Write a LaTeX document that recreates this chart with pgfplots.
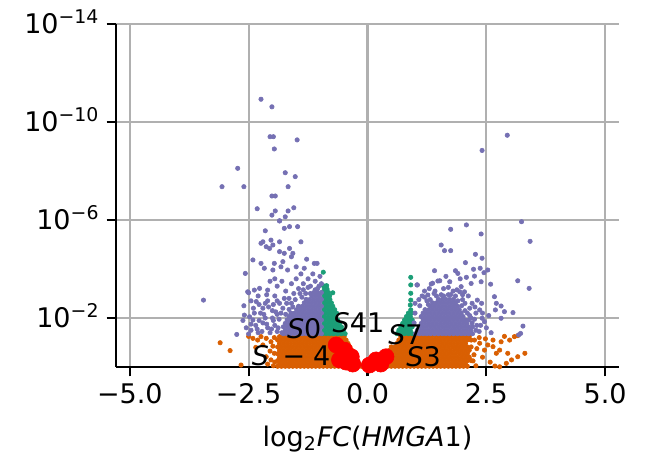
\documentclass[border=0pt]{standalone}
\usepackage{fontspec}
\setmainfont{DejaVu Sans}
\usepackage{pgfplots}
\pgfplotsset{compat=1.18}
\definecolor{cpurple}{HTML}{7570B3}
\definecolor{cgreen}{HTML}{1B9E77}
\definecolor{corange}{HTML}{D95F02}
\definecolor{cred}{HTML}{FF0000}
\definecolor{cgrid}{HTML}{B0B0B0}
\pgfplotsset{
 dot/.style={only marks, mark=*, mark size=1.1pt, color=#1, mark options={line width=0.3pt, draw=#1, fill=#1}},
}
\begin{document}
\begin{tikzpicture}[lab/.style={anchor=base west, inner sep=0pt, font=\fontsize{13.5}{16}\selectfont}]
\begin{axis}[
 scale only axis, width=251.5pt, height=171.5pt,
 xmin=-5.29, xmax=5.29, ymin=0, ymax=14,
 axis x line*=bottom, axis y line*=left,
 xtick={-5,-2.5,0,2.5,5}, xticklabels={−5.0,−2.5,0.0,2.5,5.0},
 ytick={2,6,10,14},
 yticklabels={10\textsuperscript{−2},10\textsuperscript{−6},10\textsuperscript{−10},10\textsuperscript{−14}},
 tick align=outside, major tick length=4.7pt,
 tick style={black, line width=1.08pt},
 axis line style={black, line width=1.08pt},
 grid=major, major grid style={color=cgrid, line width=1.08pt},
 ticklabel style={font=\fontsize{13.5}{16}\selectfont},
 yticklabel style={anchor=base east, yshift=-4.9pt},
 xlabel={log\textsubscript{2}\textit{FC}(\textit{HMGA}1)},
 xlabel style={font=\fontsize{13.5}{16}\selectfont, at={(rel axis cs:0.5,-0.232)}, anchor=base},
]
% orange (not significant)
\addplot[dot=corange] coordinates {
(-1.85,1.24)(-1.77,1.24)(-1.69,1.24)(-1.61,1.24)(-1.53,1.24)(-1.45,1.24)(-1.37,1.24)(-1.29,1.24)(-1.21,1.24)(-1.13,1.24)(-1.05,1.24)(-0.97,1.24)(-0.89,1.24)(-0.81,1.24)(-0.73,1.24)(-0.65,1.24)(-0.57,1.24)(-0.49,1.24)
(-1.89,1.1)(-1.81,1.1)(-1.73,1.1)(-1.65,1.1)(-1.57,1.1)(-1.49,1.1)(-1.41,1.1)(-1.33,1.1)(-1.25,1.1)(-1.17,1.1)(-1.09,1.1)(-1.01,1.1)(-0.93,1.1)(-0.85,1.1)(-0.77,1.1)(-0.69,1.1)(-0.61,1.1)(-0.53,1.1)(-0.45,1.1)
(-1.85,0.96)(-1.77,0.96)(-1.69,0.96)(-1.61,0.96)(-1.53,0.96)(-1.45,0.96)(-1.37,0.96)(-1.29,0.96)(-1.21,0.96)(-1.13,0.96)(-1.05,0.96)(-0.97,0.96)(-0.89,0.96)(-0.81,0.96)(-0.73,0.96)(-0.65,0.96)(-0.57,0.96)(-0.49,0.96)(-0.41,0.96)
(-1.89,0.82)(-1.81,0.82)(-1.73,0.82)(-1.65,0.82)(-1.57,0.82)(-1.49,0.82)(-1.41,0.82)(-1.33,0.82)(-1.25,0.82)(-1.17,0.82)(-1.09,0.82)(-1.01,0.82)(-0.93,0.82)(-0.85,0.82)(-0.77,0.82)(-0.69,0.82)(-0.61,0.82)(-0.53,0.82)(-0.45,0.82)(-0.37,0.82)
(-1.85,0.68)(-1.77,0.68)(-1.69,0.68)(-1.61,0.68)(-1.53,0.68)(-1.45,0.68)(-1.37,0.68)(-1.29,0.68)(-1.21,0.68)(-1.13,0.68)(-1.05,0.68)(-0.97,0.68)(-0.89,0.68)(-0.81,0.68)(-0.73,0.68)(-0.65,0.68)(-0.57,0.68)(-0.49,0.68)(-0.41,0.68)(-0.33,0.68)
(-1.89,0.54)(-1.81,0.54)(-1.73,0.54)(-1.65,0.54)(-1.57,0.54)(-1.49,0.54)(-1.41,0.54)(-1.33,0.54)(-1.25,0.54)(-1.17,0.54)(-1.09,0.54)(-1.01,0.54)(-0.93,0.54)(-0.85,0.54)(-0.77,0.54)(-0.69,0.54)(-0.61,0.54)(-0.53,0.54)(-0.45,0.54)(-0.37,0.54)(-0.29,0.54)
(-1.85,0.4)(-1.77,0.4)(-1.69,0.4)(-1.61,0.4)(-1.53,0.4)(-1.45,0.4)(-1.37,0.4)(-1.29,0.4)(-1.21,0.4)(-1.13,0.4)(-1.05,0.4)(-0.97,0.4)(-0.89,0.4)(-0.81,0.4)(-0.73,0.4)(-0.65,0.4)(-0.57,0.4)(-0.49,0.4)(-0.41,0.4)(-0.33,0.4)(-0.25,0.4)
(-1.89,0.26)(-1.81,0.26)(-1.73,0.26)(-1.65,0.26)(-1.57,0.26)(-1.49,0.26)(-1.41,0.26)(-1.33,0.26)(-1.25,0.26)(-1.17,0.26)(-1.09,0.26)(-1.01,0.26)(-0.93,0.26)(-0.85,0.26)(-0.77,0.26)(-0.69,0.26)(-0.61,0.26)(-0.53,0.26)(-0.45,0.26)(-0.37,0.26)(-0.29,0.26)(-0.21,0.26)
(-1.85,0.12)(-1.77,0.12)(-1.69,0.12)(-1.61,0.12)(-1.53,0.12)(-1.45,0.12)(-1.37,0.12)(-1.29,0.12)(-1.21,0.12)(-1.13,0.12)(-1.05,0.12)(-0.97,0.12)(-0.89,0.12)(-0.81,0.12)(-0.73,0.12)(-0.65,0.12)(-0.57,0.12)(-0.49,0.12)(-0.41,0.12)(-0.33,0.12)(-0.25,0.12)(-0.17,0.12)
(-1.89,0.03)(-1.81,0.03)(-1.73,0.03)(-1.65,0.03)(-1.57,0.03)(-1.49,0.03)(-1.41,0.03)(-1.33,0.03)(-1.25,0.03)(-1.17,0.03)(-1.09,0.03)(-1.01,0.03)(-0.93,0.03)(-0.85,0.03)(-0.77,0.03)(-0.69,0.03)(-0.61,0.03)(-0.53,0.03)(-0.45,0.03)(-0.37,0.03)(-0.29,0.03)(-0.21,0.03)(-0.13,0.03)(-0.08,0.02)
(0.70,1.24)(0.78,1.24)(0.86,1.24)(0.94,1.24)(1.02,1.24)(1.10,1.24)(1.18,1.24)(1.26,1.24)(1.34,1.24)(1.42,1.24)(1.50,1.24)(1.58,1.24)(1.66,1.24)(1.74,1.24)(1.82,1.24)(1.90,1.24)(1.98,1.24)(2.06,1.24)(2.14,1.24)
(0.66,1.1)(0.74,1.1)(0.82,1.1)(0.90,1.1)(0.98,1.1)(1.06,1.1)(1.14,1.1)(1.22,1.1)(1.30,1.1)(1.38,1.1)(1.46,1.1)(1.54,1.1)(1.62,1.1)(1.70,1.1)(1.78,1.1)(1.86,1.1)(1.94,1.1)(2.02,1.1)(2.10,1.1)(2.18,1.1)
(0.62,0.96)(0.70,0.96)(0.78,0.96)(0.86,0.96)(0.94,0.96)(1.02,0.96)(1.10,0.96)(1.18,0.96)(1.26,0.96)(1.34,0.96)(1.42,0.96)(1.50,0.96)(1.58,0.96)(1.66,0.96)(1.74,0.96)(1.82,0.96)(1.90,0.96)(1.98,0.96)(2.06,0.96)
(0.50,0.82)(0.58,0.82)(0.66,0.82)(0.74,0.82)(0.82,0.82)(0.90,0.82)(0.98,0.82)(1.06,0.82)(1.14,0.82)(1.22,0.82)(1.30,0.82)(1.38,0.82)(1.46,0.82)(1.54,0.82)(1.62,0.82)(1.70,0.82)(1.78,0.82)(1.86,0.82)(1.94,0.82)(2.02,0.82)(2.10,0.82)(2.18,0.82)
(0.46,0.68)(0.54,0.68)(0.62,0.68)(0.70,0.68)(0.78,0.68)(0.86,0.68)(0.94,0.68)(1.02,0.68)(1.10,0.68)(1.18,0.68)(1.26,0.68)(1.34,0.68)(1.42,0.68)(1.50,0.68)(1.58,0.68)(1.66,0.68)(1.74,0.68)(1.82,0.68)(1.90,0.68)(1.98,0.68)(2.06,0.68)(2.14,0.68)
(0.34,0.54)(0.42,0.54)(0.50,0.54)(0.58,0.54)(0.66,0.54)(0.74,0.54)(0.82,0.54)(0.90,0.54)(0.98,0.54)(1.06,0.54)(1.14,0.54)(1.22,0.54)(1.30,0.54)(1.38,0.54)(1.46,0.54)(1.54,0.54)(1.62,0.54)(1.70,0.54)(1.78,0.54)(1.86,0.54)(1.94,0.54)(2.02,0.54)(2.10,0.54)
(0.30,0.4)(0.38,0.4)(0.46,0.4)(0.54,0.4)(0.62,0.4)(0.70,0.4)(0.78,0.4)(0.86,0.4)(0.94,0.4)(1.02,0.4)(1.10,0.4)(1.18,0.4)(1.26,0.4)(1.34,0.4)(1.42,0.4)(1.50,0.4)(1.58,0.4)(1.66,0.4)(1.74,0.4)(1.82,0.4)(1.90,0.4)(1.98,0.4)(2.06,0.4)(2.14,0.4)
(0.18,0.26)(0.26,0.26)(0.34,0.26)(0.42,0.26)(0.50,0.26)(0.58,0.26)(0.66,0.26)(0.74,0.26)(0.82,0.26)(0.90,0.26)(0.98,0.26)(1.06,0.26)(1.14,0.26)(1.22,0.26)(1.30,0.26)(1.38,0.26)(1.46,0.26)(1.54,0.26)(1.62,0.26)(1.70,0.26)(1.78,0.26)(1.86,0.26)(1.94,0.26)(2.02,0.26)(2.10,0.26)(2.18,0.26)
(0.14,0.12)(0.22,0.12)(0.30,0.12)(0.38,0.12)(0.46,0.12)(0.54,0.12)(0.62,0.12)(0.70,0.12)(0.78,0.12)(0.86,0.12)(0.94,0.12)(1.02,0.12)(1.10,0.12)(1.18,0.12)(1.26,0.12)(1.34,0.12)(1.42,0.12)(1.50,0.12)(1.58,0.12)(1.66,0.12)(1.74,0.12)(1.82,0.12)(1.90,0.12)(1.98,0.12)(2.06,0.12)
(0.05,0.02)(0.10,0.03)(0.18,0.03)(0.26,0.03)(0.34,0.03)(0.42,0.03)(0.50,0.03)(0.58,0.03)(0.66,0.03)(0.74,0.03)(0.82,0.03)(0.90,0.03)(0.98,0.03)(1.06,0.03)(1.14,0.03)(1.22,0.03)(1.30,0.03)(1.38,0.03)(1.46,0.03)(1.54,0.03)(1.62,0.03)(1.70,0.03)(1.78,0.03)(1.86,0.03)(1.94,0.03)(2.02,0.03)(2.10,0.03)
(-3.10,0.99)(-2.89,0.67)(-2.66,0.08)(-2.41,1.17)(-2.31,1.1)(-2.24,1.24)(-2.13,1.17)(-2.03,1.03)(-1.96,1.2)(-1.99,0.85)(-1.96,0.56)(-2.13,0.42)(-2.03,0.29)(-1.95,0.2)(-2.2,0.9)(-2.05,0.65)(-2.5,1.25)(-2.35,0.8)(-1.98,0.05)(-2.1,0.12)
(2.25,1.1)(2.36,0.97)(2.46,0.69)(2.53,0.9)(2.64,0.83)(2.71,0.56)(2.78,0.69)(2.81,1.03)(2.88,1.25)(2.99,1.1)(3.09,1.24)(3.16,1.28)(2.95,0.56)(2.92,0.15)(3.03,0.29)(3.16,0.42)(3.31,0.56)(2.78,0.01)(2.24,0.5)(2.3,0.75)(2.22,0.25)(2.35,1.2)(2.42,0.4)(2.28,0.05)(2.58,0.2)(2.64,1.1)(2.48,1.15)(2.68,0.04)
};
% green (significant, small fold change)
\addplot[dot=cgreen] coordinates {
(-0.95,1.36)(-0.87,1.36)(-0.79,1.36)(-0.71,1.36)(-0.63,1.36)(-0.55,1.36)(-0.47,1.36)
(-0.91,1.5)(-0.83,1.5)(-0.75,1.5)(-0.67,1.5)(-0.59,1.5)(-0.51,1.5)
(-0.95,1.64)(-0.87,1.64)(-0.79,1.64)(-0.71,1.64)(-0.63,1.64)(-0.55,1.64)
(-0.91,1.78)(-0.83,1.78)(-0.75,1.78)(-0.67,1.78)(-0.59,1.78)
(-0.95,1.92)(-0.87,1.92)(-0.79,1.92)(-0.71,1.92)(-0.63,1.92)
(-0.91,2.06)(-0.83,2.06)(-0.75,2.06)(-0.67,2.06)
(-0.95,2.2)(-0.87,2.2)(-0.79,2.2)(-0.71,2.2)(-0.65,2.2)
(-0.91,2.34)(-0.83,2.34)(-0.75,2.34)(-0.69,2.34)
(-0.95,2.48)(-0.87,2.48)(-0.79,2.48)(-0.73,2.48)
(-0.91,2.62)(-0.83,2.62)(-0.76,2.62)
(-0.95,2.76)(-0.87,2.76)(-0.79,2.76)
(-0.91,2.9)(-0.83,2.9)(-0.8,2.9)
(-0.95,3.04)(-0.87,3.04)(-0.82,3.04)
(-0.91,3.18)(-0.85,3.18)
(-0.93,3.32)(-0.86,3.32)
(-0.93,3.87)(-0.73,3.03)
(0.62,1.36)(0.70,1.36)(0.78,1.36)(0.86,1.36)(0.94,1.36)
(0.66,1.5)(0.74,1.5)(0.82,1.5)(0.90,1.5)
(0.70,1.64)(0.78,1.64)(0.86,1.64)(0.94,1.64)
(0.74,1.78)(0.82,1.78)(0.90,1.78)
(0.78,1.92)(0.86,1.92)(0.94,1.92)
(0.82,2.06)(0.90,2.06)
(0.86,2.2)(0.93,2.2)
(0.91,2.33)(0.9,2.53)(0.91,2.73)(0.91,3.01)(0.91,3.35)(0.91,3.66)
};
% purple (significant, large fold change)
\addplot[dot=cpurple] coordinates {
(-1.77,1.36)(-1.69,1.36)(-1.61,1.36)(-1.53,1.36)(-1.45,1.36)(-1.37,1.36)(-1.29,1.36)(-1.21,1.36)(-1.13,1.36)(-1.05,1.36)(-0.97,1.36)
(-1.73,1.5)(-1.65,1.5)(-1.57,1.5)(-1.49,1.5)(-1.41,1.5)(-1.33,1.5)(-1.25,1.5)(-1.17,1.5)(-1.09,1.5)(-1.01,1.5)
(-1.77,1.64)(-1.69,1.64)(-1.61,1.64)(-1.53,1.64)(-1.45,1.64)(-1.37,1.64)(-1.29,1.64)(-1.21,1.64)(-1.13,1.64)(-1.05,1.64)(-0.97,1.64)
(-1.73,1.78)(-1.65,1.78)(-1.57,1.78)(-1.49,1.78)(-1.41,1.78)(-1.33,1.78)(-1.25,1.78)(-1.17,1.78)(-1.09,1.78)(-1.01,1.78)
(-1.69,1.92)(-1.61,1.92)(-1.53,1.92)(-1.45,1.92)(-1.37,1.92)(-1.29,1.92)(-1.21,1.92)(-1.13,1.92)(-1.05,1.92)(-0.97,1.92)
(-1.65,2.06)(-1.57,2.06)(-1.49,2.06)(-1.41,2.06)(-1.33,2.06)(-1.25,2.06)(-1.17,2.06)(-1.09,2.06)(-1.01,2.06)
(-1.61,2.2)(-1.53,2.2)(-1.45,2.2)(-1.37,2.2)(-1.29,2.2)(-1.21,2.2)(-1.13,2.2)(-1.05,2.2)(-0.97,2.2)
(-1.49,2.34)(-1.41,2.34)(-1.33,2.34)(-1.25,2.34)(-1.17,2.34)(-1.09,2.34)(-1.01,2.34)
(-1.45,2.48)(-1.37,2.48)(-1.29,2.48)(-1.21,2.48)(-1.13,2.48)(-1.05,2.48)(-0.97,2.48)
(-1.33,2.62)(-1.25,2.62)(-1.17,2.62)(-1.09,2.62)(-1.01,2.62)
(-1.29,2.76)(-1.21,2.76)(-1.13,2.76)(-1.05,2.76)(-0.97,2.76)
(-1.17,2.9)(-1.09,2.9)(-1.01,2.9)
(-1.13,3.04)(-1.05,3.04)(-0.97,3.04)
(-2.52,3.07)(-2.38,3.14)(-2.27,3.21)(-2.59,2.12)(-2.48,2.05)(-2.41,1.92)(-2.34,2.67)(-2.57,3.82)(-2.41,4.37)(-2.24,4.23)(-1.96,4.23)(-1.78,4.30)(-2.17,4.03)(-1.99,3.96)(-1.82,4.09)(-1.68,3.96)(-1.5,4.09)(-1.33,4.03)(-1.12,4.23)(-1.06,4.23)(-2.13,4.91)(-2.06,4.84)(-1.99,4.98)(-1.85,4.71)(-1.75,4.64)(-1.64,4.84)(-1.57,4.64)(-2.2,5.11)(-2.03,5.18)(-1.85,5.11)(-1.4,5.11)(-2.15,5.56)(-1.75,5.66)(-1.64,5.73)(-1.47,5.73)(-1.85,5.97)(-2.24,5.05)(-2.1,3.14)(-2.5,3.03)(-2.75,1.33)(-3.45,2.73)(-2.55,1.6)
(-2.2,2.4)(-2.1,2.7)(-2.0,2.3)(-1.95,2.9)(-1.9,3.3)(-1.85,2.6)(-1.8,3.5)(-1.72,3.1)(-1.65,2.8)(-1.6,3.4)(-1.55,3.0)(-1.5,3.6)(-1.45,3.2)(-1.4,3.8)(-1.35,3.4)(-1.3,3.0)(-1.25,3.6)(-1.2,3.3)(-1.15,3.8)(-1.1,3.5)(-1.05,3.2)(-1.0,3.7)(-0.97,3.4)(-1.28,4.4)(-1.6,4.5)(-1.95,3.6)(-2.05,3.5)(-2.3,2.9)(-2.25,2.2)(-2.35,1.7)(-2.45,1.5)(-2.2,1.8)(-2.1,1.6)(-2.0,2.0)(-1.9,1.45)(-1.95,1.7)(-2.05,1.4)(-2.15,2.0)(-2.3,1.4)(-2.5,1.35)(-1.9,2.15)(-2.12,2.95)(-1.78,2.4)(-1.7,2.6)(-1.2,3.0)(-1.08,2.95)(-1.38,2.85)(-2.4,2.4)(-2.28,2.55)(-1.98,2.55)
(-2.45,1.75)(-2.38,2.2)(-2.32,1.55)(-2.28,1.9)(-2.22,1.45)(-2.18,2.15)(-2.12,1.75)(-2.08,2.45)(-2.02,1.55)(-1.98,1.9)(-1.93,2.25)(-1.88,1.6)(-1.86,1.95)(-1.82,2.2)(-1.8,1.4)(-2.6,2.5)(-2.62,1.9)(-2.45,2.7)(-2.15,2.6)(-1.9,2.7)(-1.75,2.8)(-1.6,2.6)(-1.52,2.75)(-1.42,3.0)(-1.35,3.15)(-1.25,3.25)(-1.1,3.15)(-1.02,3.3)(-1.57,2.45)(-1.65,2.35)(-1.72,2.15)
(-2.24,10.93)(-2.01,10.62)(-2.05,9.4)(-1.98,9.4)(-1.48,9.27)(-1.96,8.9)(-2.73,8.11)(-3.06,7.36)(-2.6,7.36)(-1.73,7.93)(-1.52,7.77)(-1.67,7.36)(-2.01,6.98)(-1.94,6.98)(-2.32,6.46)(-1.94,6.37)(-2.01,6.2)(-1.67,6.37)(-1.55,6.5)(-1.73,6.13)(-1.85,5.96)
(1.01,1.36)(1.09,1.36)(1.17,1.36)(1.25,1.36)(1.33,1.36)(1.41,1.36)(1.49,1.36)(1.57,1.36)(1.65,1.36)(1.73,1.36)(1.81,1.36)(1.89,1.36)(1.97,1.36)(2.05,1.36)(2.13,1.36)(2.21,1.36)
(1.05,1.5)(1.13,1.5)(1.21,1.5)(1.29,1.5)(1.37,1.5)(1.45,1.5)(1.53,1.5)(1.61,1.5)(1.69,1.5)(1.77,1.5)(1.85,1.5)(1.93,1.5)(2.01,1.5)(2.09,1.5)(2.17,1.5)
(1.09,1.64)(1.17,1.64)(1.25,1.64)(1.33,1.64)(1.41,1.64)(1.49,1.64)(1.57,1.64)(1.65,1.64)(1.73,1.64)(1.81,1.64)(1.89,1.64)(1.97,1.64)(2.05,1.64)(2.13,1.64)(2.21,1.64)
(1.13,1.78)(1.21,1.78)(1.29,1.78)(1.37,1.78)(1.45,1.78)(1.53,1.78)(1.61,1.78)(1.69,1.78)(1.77,1.78)(1.85,1.78)(1.93,1.78)(2.01,1.78)(2.09,1.78)
(1.17,1.92)(1.25,1.92)(1.33,1.92)(1.41,1.92)(1.49,1.92)(1.57,1.92)(1.65,1.92)(1.73,1.92)(1.81,1.92)(1.89,1.92)(1.97,1.92)(2.05,1.92)(2.13,1.92)
(1.13,2.06)(1.21,2.06)(1.29,2.06)(1.37,2.06)(1.45,2.06)(1.53,2.06)(1.61,2.06)(1.69,2.06)(1.77,2.06)(1.85,2.06)(1.93,2.06)(2.01,2.06)
(1.17,2.2)(1.25,2.2)(1.33,2.2)(1.41,2.2)(1.49,2.2)(1.57,2.2)(1.65,2.2)(1.73,2.2)(1.81,2.2)(1.89,2.2)(1.97,2.2)
(1.21,2.34)(1.29,2.34)(1.37,2.34)(1.45,2.34)(1.53,2.34)(1.61,2.34)(1.69,2.34)(1.77,2.34)(1.85,2.34)(1.93,2.34)
(1.33,2.48)(1.41,2.48)(1.49,2.48)(1.57,2.48)(1.65,2.48)(1.73,2.48)(1.81,2.48)(1.89,2.48)
(1.37,2.62)(1.45,2.62)(1.53,2.62)(1.61,2.62)(1.69,2.62)(1.77,2.62)(1.85,2.62)
(1.49,2.76)(1.57,2.76)(1.65,2.76)(1.73,2.76)(1.81,2.76)
(2.94,9.46)(2.41,8.84)(3.24,5.93)(2.08,5.80)(2.39,5.43)(1.75,5.62)(3.42,5.13)(1.55,4.98)(1.62,4.75)(1.75,4.75)(2.27,4.6)(2.41,4.44)(2.06,4.26)(1.41,3.93)(1.85,3.93)(1.9,3.82)(2.23,3.99)(2.37,4.03)(2.45,3.85)(2.53,3.96)(1.73,3.48)(1.48,3.51)(1.34,3.39)(2.08,3.66)(2.25,3.71)(2.18,3.41)(2.39,3.48)(2.59,3.38)(1.05,3.35)(1.27,2.94)(1.97,3.28)(1.94,3.07)(2.04,3.07)(2.67,2.87)(2.71,2.6)(2.81,2.49)(2.69,2.33)(2.88,2.26)(2.81,1.99)(3.06,2.22)(2.41,1.99)(2.46,1.85)(3.16,3.52)(3.27,1.67)(3.22,1.37)(2.31,2.73)(2.36,2.33)(3.40,3.21)(3.18,1.31)
(1.15,2.9)(1.2,3.1)(1.6,3.2)(1.8,3.1)(2.12,2.9)(2.2,2.6)(2.28,2.2)(2.3,1.7)(2.35,1.45)(2.5,1.6)(2.55,2.1)(2.6,1.4)(1.4,3.0)(1.55,2.95)(1.7,2.95)(1.85,2.9)(2.0,2.75)(2.15,2.4)(2.25,1.95)(2.4,2.6)(1.25,2.7)(1.1,2.5)(1.0,2.2)(0.98,1.8)(1.3,3.2)(1.65,3.7)(1.95,3.6)(2.05,2.3)(1.04,3.35)(1.37,3.42)(1.52,3.52)
(1.0,2.6)(1.08,2.75)(1.2,2.85)(1.28,2.55)(1.32,2.75)(1.45,2.9)(1.6,2.9)(1.75,2.95)(1.9,2.7)(1.98,2.5)(2.05,2.6)(2.1,2.2)(2.18,2.0)(2.2,1.8)(2.28,1.5)(2.15,2.1)(1.42,3.1)(1.7,3.25)(1.88,3.15)(2.0,2.95)(2.26,2.45)(2.38,1.7)(2.42,2.2)
};
% red highlighted genes
\addplot[only marks, mark=*, mark size=4pt, color=cred, mark options={line width=0.3pt, draw=cred, fill=cred}] coordinates {
(-0.66,0.9)(-0.48,0.69)(-0.34,0.42)(-0.59,0.29)(-0.45,0.2)(-0.31,0.12)
(0.04,0.08)(0.18,0.29)(0.39,0.42)(0.28,0.12)
};
\coordinate (lS0) at (axis cs:-1.70,1.17);
\coordinate (lS41) at (axis cs:-0.74,1.42);
\coordinate (lS7) at (axis cs:0.43,0.90);
\coordinate (lSm4) at (axis cs:-2.44,0.08);
\coordinate (lS3) at (axis cs:0.81,0.02);
\coordinate (bbSW) at (rel axis cs:-0.2306,-0.2595);
\coordinate (bbNE) at (rel axis cs:1.0537,1.0700);
\end{axis}
\node[lab] at (lS0) {\textit{S}0};
\node[lab] at (lS41) {\textit{S}41};
\node[lab] at (lS7) {\textit{S}7};
\node[lab] at (lSm4) {\textit{S}\kern0.5em−\kern0.3em4};
\node[lab] at (lS3) {\textit{S}3};
\pgfresetboundingbox
\path[use as bounding box] (bbSW) rectangle (bbNE);
\end{tikzpicture}
\end{document}
